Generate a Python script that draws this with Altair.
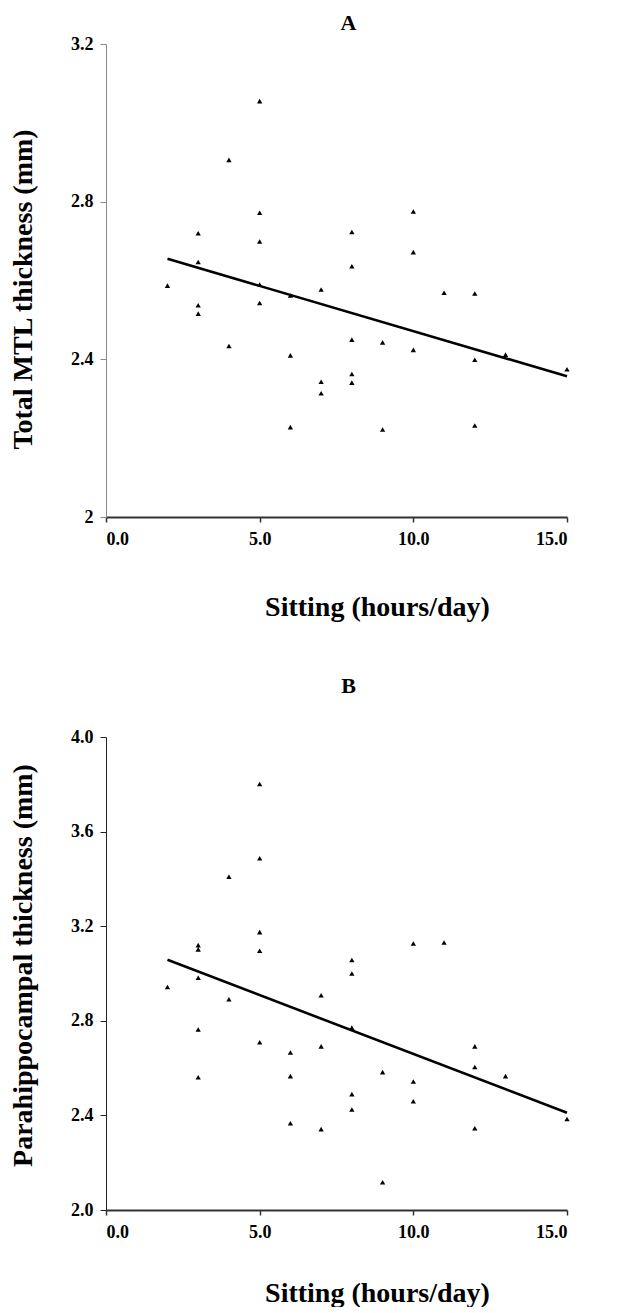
import altair as alt
import pandas as pd

# Panel A data
sit_a = [2, 3, 3, 3, 3, 4, 4, 5, 5, 5, 5, 5, 6, 6, 6, 7, 7, 7, 8, 8, 8, 8, 8,
         9, 9, 10, 10, 10, 11, 12, 12, 12, 13, 15]
mtl = [2.587, 2.720, 2.647, 2.537, 2.516, 2.906, 2.434, 3.055, 2.772, 2.699,
       2.590, 2.543, 2.562, 2.410, 2.228, 2.577, 2.343, 2.314, 2.723, 2.636,
       2.450, 2.363, 2.341, 2.443, 2.222, 2.775, 2.672, 2.424, 2.569, 2.567,
       2.399, 2.232, 2.412, 2.375]

# Panel B data
sit_b = [2, 3, 3, 3, 3, 3, 4, 4, 5, 5, 5, 5, 5, 6, 6, 6, 7, 7, 7, 8, 8, 8, 8, 8,
         9, 9, 10, 10, 10, 11, 12, 12, 12, 13, 15]
para = [2.943, 3.120, 3.102, 2.982, 2.763, 2.561, 3.409, 2.891, 3.801, 3.487,
        3.175, 3.096, 2.709, 2.666, 2.566, 2.367, 2.908, 2.692, 2.342, 3.057,
        3.000, 2.771, 2.490, 2.425, 2.583, 2.117, 3.127, 2.543, 2.460, 3.131,
        2.692, 2.605, 2.346, 2.566, 2.385]

# Fitted trend lines (endpoints)
fit_x = [2, 15]
fit_a = [2.655, 2.357]
fit_b = [3.058, 2.411]

x_ticks = [0, 5, 10, 15]
a_ticks = [2.0, 2.4, 2.8, 3.2]
b_ticks = [2.0, 2.4, 2.8, 3.2, 3.6, 4.0]

FONT = "Liberation Serif"

df_a = pd.DataFrame({"x": sit_a, "y": mtl})
df_b = pd.DataFrame({"x": sit_b, "y": para})
fa = pd.DataFrame({"x": fit_x, "y": fit_a})
fb = pd.DataFrame({"x": fit_x, "y": fit_b})


def panel(df, fit, ydom, yticks, ytitle, yfmt_expr, title, ydomain_color,
          ytitle_x, ytitle_y, xtitle_y, title_offset):
    xaxis = alt.Axis(values=x_ticks, format=".1f", title="Sitting (hours/day)",
                     grid=False, domainColor="#333333", domainWidth=2,
                     tickColor="#333333", tickSize=5, tickWidth=1.5,
                     labelPadding=8, labelFont=FONT, labelFontSize=18,
                     labelFontWeight="bold", labelColor="black",
                     titleFont=FONT, titleFontSize=28, titleFontWeight="bold",
                     titleColor="black", titleX=271, titleY=xtitle_y,
                     titleBaseline="middle", titleAlign="center")
    yaxis = alt.Axis(values=yticks, labelExpr=yfmt_expr, title=ytitle,
                     grid=False, domainColor=ydomain_color, domainWidth=1,
                     tickColor=ydomain_color, tickSize=6, tickWidth=1,
                     labelPadding=7, labelFont=FONT, labelFontSize=18,
                     labelFontWeight="bold", labelColor="black",
                     titleFont=FONT, titleFontSize=28, titleFontWeight="bold",
                     titleColor="black", titleAngle=270, titleX=ytitle_x,
                     titleY=ytitle_y, titleBaseline="middle",
                     titleAlign="center")
    xs = alt.Scale(domain=[0, 15], nice=False, zero=False)
    ys = alt.Scale(domain=ydom, nice=False, zero=False)
    pts = alt.Chart(df).mark_point(shape="triangle-up", filled=True,
                                   color="black", size=28, opacity=1).encode(
        x=alt.X("x:Q", scale=xs, axis=xaxis),
        y=alt.Y("y:Q", scale=ys, axis=yaxis),
    )
    line = alt.Chart(fit).mark_line(color="black", strokeWidth=2.6).encode(
        x=alt.X("x:Q", scale=xs),
        y=alt.Y("y:Q", scale=ys),
    )
    return alt.layer(pts, line).properties(
        width=461, height=473,
        title=alt.TitleParams(title, font=FONT, fontSize=22,
                              fontWeight="bold", color="black", dx=12,
                              offset=title_offset, anchor="middle"),
    )


chart_a = panel(df_a, fa, [2.0, 3.2], a_ticks, "Total MTL thickness (mm)",
                "datum.value == 2 ? '2' : format(datum.value, '.1f')",
                "A", "#8a8a8a", -83, 245, 90, 0)
chart_b = panel(df_b, fb, [2.0, 4.0], b_ticks,
                "Parahippocampal thickness (mm)",
                "format(datum.value, '.1f')",
                "B", "#222222", -83, 228, 83, 30)

chart = alt.vconcat(chart_a, chart_b, spacing=54).properties(
    padding={"left": 0, "top": 4, "right": 5, "bottom": 0},
    background="white",
).configure_view(strokeWidth=0, stroke="transparent")

chart.save("out.html", embed_options={"renderer": "svg", "actions": False})
